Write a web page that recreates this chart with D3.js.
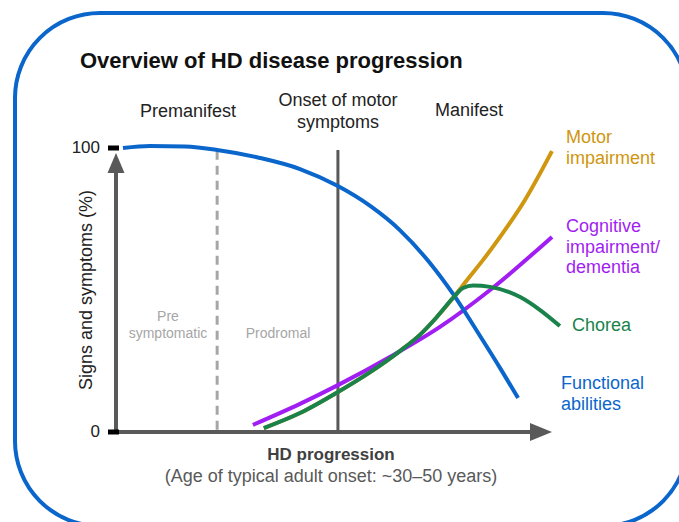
<!DOCTYPE html>
<html>
<head>
<meta charset="utf-8">
<script src="https://cdn.jsdelivr.net/npm/d3@7"></script>
<style>
    body { margin: 0; background: #fff; }
    svg { display: block; font-family: "Liberation Sans", Arial, sans-serif; }
</style>
</head>
<body>
<script>
"use strict";

// progression runs 0..100 along x, signs and symptoms (%) 0..100 along y
const yTicks = [0, 100]
const phaseX = [0, 23.2, 50.9]   // start, premanifest split (dashed), motor onset (solid)

const functionalX = [1.6, 7.8, 15.8, 23.2, 33.0, 42.2, 50.9, 58.3, 65.1, 72.0, 77.3, 83.5, 88.1, 92.2]
const functionalY = [100, 100.7, 100.5, 99.3, 96.5, 92.6, 86.6, 79.6, 71.1, 59.5, 48.6, 33.8, 22.5, 12.0]

const cognitiveX = [31.4, 42.2, 50.9, 62.8, 74.3, 85.8, 100]
const cognitiveY = [2.5, 9.9, 16.5, 26.4, 37.0, 50.0, 68.7]

const choreaX = [33.9, 42.2, 50.9, 58.3, 65.1, 69.7, 73.6, 77.3, 79.6, 81.9, 85.8, 92.7, 97.2, 101.8]
const choreaY = [1.4, 6.7, 14.1, 21.1, 28.5, 34.2, 40.5, 47.2, 50.7, 51.6, 51.1, 47.5, 43.0, 37.3]

const motorX = [33.9, 42.2, 50.9, 58.3, 65.1, 69.7, 73.6, 77.3, 80.7, 84.2, 88.1, 93.8, 100]
const motorY = [1.4, 6.7, 14.1, 21.1, 28.5, 34.2, 40.5, 47.2, 53.9, 60.6, 68.7, 81.7, 98.9]

const titleText = "Overview of HD disease progression"
const phaseLabels = [["Premanifest"], ["Onset of motor", "symptoms"], ["Manifest"]]
const stageLabels = [["Pre", "symptomatic"], ["Prodromal"]]
const seriesLabels = [
    ["Motor", "impairment"],
    ["Cognitive", "impairment/", "dementia"],
    ["Chorea"],
    ["Functional", "abilities"]
]
const yLabel = "Signs and symptoms (%)"
const xLabel = "HD progression"
const xSubLabel = "(Age of typical adult onset: ~30\u201350 years)"

;(function(){
    const measurements = {
        width: 679,
        height: 522,
        left: 116,
        right: 552,
        top: 148,
        bottom: 432
    }

    const colors = {
        motor: "#cf960f",
        cognitive: "#a11ef2",
        chorea: "#19834b",
        functional: "#0b66cc",
        axis: "#595959",
        faint: "#a6a6a6"
    }

    let svg = d3.select('body').append('svg')
        .attr('width', measurements.width)
        .attr('height', measurements.height)

    let scaleX = d3.scaleLinear()
        .domain([0, 100])
        .range([measurements.left, measurements.right])
    let scaleY = d3.scaleLinear()
        .domain([0, 100])
        .range([measurements.bottom, measurements.top])

    // rounded frame
    svg.append('rect')
        .attr('x', 15).attr('y', 13)
        .attr('width', 673).attr('height', 513)
        .attr('rx', 85).attr('ry', 85)
        .attr('fill', 'none')
        .attr('stroke', colors.functional)
        .attr('stroke-width', 4)

    svg.append('text')
        .attr('x', 80).attr('y', 68)
        .attr('font-size', 22)
        .attr('font-weight', 'bold')
        .attr('fill', '#111')
        .text(titleText)

    // phase headers
    const phaseCenters = [188, 338, 469]
    const phaseBase = [117, 106, 116]
    phaseLabels.forEach(function(lines, i) {
        let t = svg.append('text')
            .attr('text-anchor', 'middle')
            .attr('font-size', 18)
            .attr('fill', '#222')
        lines.forEach(function(line, j) {
            t.append('tspan')
                .attr('x', phaseCenters[i])
                .attr('y', phaseBase[i] + j * 22)
                .text(line)
        })
    })

    // phase dividers
    svg.append('line')
        .attr('x1', scaleX(phaseX[1])).attr('x2', scaleX(phaseX[1]))
        .attr('y1', scaleY(99)).attr('y2', scaleY(0))
        .attr('stroke', colors.faint)
        .attr('stroke-width', 3)
        .attr('stroke-dasharray', '9,6')

    svg.append('line')
        .attr('x1', scaleX(phaseX[2])).attr('x2', scaleX(phaseX[2]))
        .attr('y1', scaleY(99.3)).attr('y2', scaleY(0))
        .attr('stroke', colors.axis)
        .attr('stroke-width', 3)

    // stage labels inside premanifest
    const stageCenters = [168, 278]
    const stageBase = [321, 338]
    stageLabels.forEach(function(lines, i) {
        let t = svg.append('text')
            .attr('text-anchor', 'middle')
            .attr('font-size', 14)
            .attr('fill', colors.faint)
        lines.forEach(function(line, j) {
            t.append('tspan')
                .attr('x', stageCenters[i])
                .attr('y', stageBase[i] + j * 17)
                .text(line)
        })
    })

    // axes with arrows
    svg.append('line')
        .attr('x1', scaleX(0)).attr('x2', scaleX(0))
        .attr('y1', scaleY(0) + 2).attr('y2', scaleY(92))
        .attr('stroke', colors.axis)
        .attr('stroke-width', 4)
    svg.append('path')
        .attr('d', d3.line()([[scaleX(0) - 8.5, 173], [scaleX(0), 153], [scaleX(0) + 8.5, 173]]) + 'Z')
        .attr('fill', colors.axis)

    svg.append('line')
        .attr('x1', scaleX(0) - 8).attr('x2', 534)
        .attr('y1', scaleY(0)).attr('y2', scaleY(0))
        .attr('stroke', colors.axis)
        .attr('stroke-width', 4)
    svg.append('path')
        .attr('d', d3.line()([[530, scaleY(0) - 9], [scaleX(100), scaleY(0)], [530, scaleY(0) + 9]]) + 'Z')
        .attr('fill', colors.axis)

    // y ticks: black nubs and labels
    yTicks.forEach(function(v) {
        svg.append('rect')
            .attr('x', 108).attr('y', scaleY(v) - 2.5)
            .attr('width', 11).attr('height', 5)
            .attr('fill', '#000')
        svg.append('text')
            .attr('x', 100)
            .attr('y', scaleY(v) + 5)
            .attr('text-anchor', 'end')
            .attr('font-size', 17)
            .attr('fill', '#222')
            .text(v)
    })

    // curves
    const line = d3.line()
        .x(d => scaleX(d[0]))
        .y(d => scaleY(d[1]))
        .curve(d3.curveMonotoneX)

    const series = [
        { xs: motorX, ys: motorY, color: colors.motor },
        { xs: cognitiveX, ys: cognitiveY, color: colors.cognitive },
        { xs: functionalX, ys: functionalY, color: colors.functional },
        { xs: choreaX, ys: choreaY, color: colors.chorea }
    ]
    series.forEach(function(s) {
        svg.append('path')
            .datum(d3.zip(s.xs, s.ys))
            .attr('d', line)
            .attr('fill', 'none')
            .attr('stroke', s.color)
            .attr('stroke-width', 4)
    })

    // series labels at right
    const labelColors = [colors.motor, colors.cognitive, colors.chorea, colors.functional]
    const labelX = [566, 566, 572, 561]
    const labelBase = [143, 232, 331, 389]
    seriesLabels.forEach(function(lines, i) {
        let t = svg.append('text')
            .attr('font-size', 18)
            .attr('fill', labelColors[i])
        lines.forEach(function(l, j) {
            t.append('tspan')
                .attr('x', labelX[i])
                .attr('y', labelBase[i] + j * 20.5)
                .text(l)
        })
    })

    // axis titles
    svg.append('text')
        .attr('transform', 'translate(92, 290) rotate(-90)')
        .attr('text-anchor', 'middle')
        .attr('font-size', 18)
        .attr('fill', '#222')
        .text(yLabel)

    svg.append('text')
        .attr('x', 331).attr('y', 460)
        .attr('text-anchor', 'middle')
        .attr('font-size', 17)
        .attr('font-weight', 'bold')
        .attr('fill', '#404040')
        .text(xLabel)

    svg.append('text')
        .attr('x', 331).attr('y', 482)
        .attr('text-anchor', 'middle')
        .attr('font-size', 18)
        .attr('fill', '#595959')
        .text(xSubLabel)
})()
</script>
</body>
</html>
